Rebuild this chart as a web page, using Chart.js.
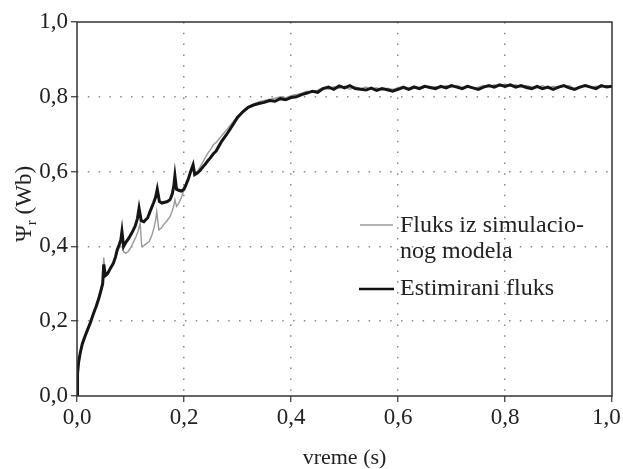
<!DOCTYPE html>
<html>
<head>
<meta charset="utf-8">
<script src="https://cdn.jsdelivr.net/npm/chart.js"></script>
<style>
  html, body { margin: 0; padding: 0; background: #fff; }
  #wrap { width: 623px; height: 469px; }
</style>
</head>
<body>
<div id="wrap"><canvas id="c" width="623" height="469"></canvas></div>
<script>
// Vremena i vrednosti očitani sa slike (početni deo sa skokovima)
const estT = [0, 0.001, 0.003, 0.006, 0.01, 0.015, 0.02, 0.025, 0.031, 0.036, 0.041, 0.045, 0.048, 0.05, 0.053,
  0.057, 0.062, 0.068, 0.072, 0.075, 0.079, 0.082, 0.084, 0.087, 0.091, 0.095, 0.099, 0.104, 0.109, 0.113,
  0.116, 0.12, 0.125, 0.129, 0.132, 0.137, 0.143, 0.147, 0.15, 0.154, 0.159, 0.164, 0.169, 0.174, 0.178,
  0.181, 0.183, 0.186, 0.19, 0.195, 0.2, 0.204, 0.208, 0.212, 0.215, 0.217, 0.22, 0.225, 0.23, 0.235,
  0.24, 0.245, 0.25, 0.255];
const estV = [0, 0.06, 0.09, 0.115, 0.14, 0.16, 0.178, 0.196, 0.221, 0.24, 0.262, 0.283, 0.3, 0.352, 0.322,
  0.327, 0.34, 0.355, 0.372, 0.39, 0.405, 0.418, 0.44, 0.40, 0.41, 0.418, 0.427, 0.44, 0.455, 0.475,
  0.502, 0.469, 0.466, 0.472, 0.476, 0.495, 0.516, 0.532, 0.553, 0.52, 0.516, 0.518, 0.52, 0.525, 0.54,
  0.562, 0.589, 0.553, 0.55, 0.548, 0.553, 0.566, 0.58, 0.598, 0.61, 0.618, 0.592, 0.596, 0.603, 0.612,
  0.62, 0.63, 0.638, 0.648];

const simT = [0, 0.001, 0.003, 0.006, 0.01, 0.015, 0.02, 0.025, 0.031, 0.036, 0.041, 0.045, 0.048, 0.05, 0.053,
  0.057, 0.062, 0.068, 0.072, 0.075, 0.079, 0.082, 0.084, 0.087, 0.091, 0.095, 0.1, 0.105, 0.11, 0.114,
  0.118, 0.121, 0.125, 0.13, 0.135, 0.14, 0.144, 0.147, 0.149, 0.153, 0.158, 0.163, 0.168, 0.174, 0.178,
  0.181, 0.183, 0.186, 0.19, 0.195, 0.2, 0.204, 0.208, 0.212, 0.215, 0.217, 0.22, 0.225, 0.23, 0.235,
  0.24, 0.245, 0.25, 0.255];
const simV = [0, 0.06, 0.092, 0.118, 0.142, 0.162, 0.18, 0.2, 0.224, 0.245, 0.268, 0.29, 0.31, 0.37, 0.33,
  0.33, 0.34, 0.352, 0.368, 0.385, 0.4, 0.41, 0.43, 0.386, 0.382, 0.385, 0.395, 0.41, 0.425, 0.44,
  0.462, 0.40, 0.402, 0.408, 0.413, 0.43, 0.45, 0.47, 0.493, 0.444, 0.45, 0.46, 0.468, 0.48, 0.495,
  0.51, 0.525, 0.507, 0.515, 0.53, 0.551, 0.565, 0.58, 0.597, 0.605, 0.612, 0.59, 0.6, 0.612, 0.625,
  0.638, 0.65, 0.66, 0.672];

// Drugi deo: zajednička vremena 0,26 .. 1,00 s
const lateT = [0.26, 0.27, 0.28, 0.29, 0.30, 0.31, 0.32, 0.33, 0.34, 0.35,
  0.36, 0.37, 0.38, 0.39, 0.40, 0.41, 0.42, 0.43, 0.44, 0.45,
  0.46, 0.47, 0.48, 0.49, 0.50, 0.51, 0.52, 0.53, 0.54, 0.55,
  0.56, 0.57, 0.58, 0.59, 0.60, 0.61, 0.62, 0.63, 0.64, 0.65,
  0.66, 0.67, 0.68, 0.69, 0.70, 0.71, 0.72, 0.73, 0.74, 0.75,
  0.76, 0.77, 0.78, 0.79, 0.80, 0.81, 0.82, 0.83, 0.84, 0.85,
  0.86, 0.87, 0.88, 0.89, 0.90, 0.91, 0.92, 0.93, 0.94, 0.95,
  0.96, 0.97, 0.98, 0.99, 1.00];
const estLate = [0.655, 0.68, 0.70, 0.722, 0.745, 0.76, 0.772, 0.778, 0.782, 0.785,
  0.79, 0.788, 0.795, 0.792, 0.798, 0.80, 0.806, 0.81, 0.815, 0.812,
  0.822, 0.826, 0.82, 0.829, 0.824, 0.83, 0.822, 0.82, 0.818, 0.823,
  0.817, 0.822, 0.819, 0.815, 0.82, 0.825, 0.82, 0.826, 0.822, 0.828,
  0.825, 0.822, 0.828, 0.824, 0.83, 0.826, 0.822, 0.828, 0.824, 0.82,
  0.826, 0.83, 0.826, 0.832, 0.828, 0.832, 0.826, 0.83, 0.825, 0.822,
  0.828, 0.822, 0.826, 0.82, 0.826, 0.83, 0.824, 0.82, 0.826, 0.83,
  0.826, 0.822, 0.83, 0.826, 0.828];
const simLate = [0.678, 0.695, 0.712, 0.73, 0.748, 0.762, 0.774, 0.78, 0.786, 0.79,
  0.793, 0.796, 0.8, 0.797, 0.803, 0.806, 0.81, 0.815, 0.812, 0.818,
  0.825, 0.82, 0.827, 0.823, 0.828, 0.82, 0.826, 0.822, 0.826, 0.82,
  0.824, 0.818, 0.823, 0.82, 0.824, 0.828, 0.823, 0.829, 0.825, 0.83,
  0.822, 0.827, 0.824, 0.83, 0.826, 0.83, 0.825, 0.83, 0.822, 0.826,
  0.83, 0.826, 0.832, 0.828, 0.834, 0.828, 0.832, 0.826, 0.83, 0.826,
  0.824, 0.83, 0.822, 0.828, 0.824, 0.828, 0.83, 0.822, 0.828, 0.832,
  0.824, 0.828, 0.826, 0.83, 0.826];

const legendLabels = ['Fluks iz simulacio-', 'nog modela', 'Estimirani fluks'];

const FONT = '"Liberation Serif", "Times New Roman", serif';
const fmt = v => v.toFixed(1).replace('.', ',');

function toPoints(t, v) { return t.map((x, i) => ({ x, y: v[i] })); }
const estData = toPoints(estT, estV).concat(toPoints(lateT, estLate));
const simData = toPoints(simT, simV).concat(toPoints(lateT, simLate));

// okvir, legenda u polju i naslov y ose sa indeksom
const extras = {
  id: 'extras',
  afterDatasetsDraw(chart) {
    const { ctx, chartArea: a } = chart;
    ctx.save();
    ctx.strokeStyle = '#333';
    ctx.lineWidth = 1.5;
    ctx.strokeRect(a.left, a.top, a.right - a.left, a.bottom - a.top);

    // legenda
    ctx.font = '24px ' + FONT;
    ctx.fillStyle = '#222';
    ctx.textBaseline = 'middle';
    ctx.textAlign = 'left';
    ctx.strokeStyle = '#999';
    ctx.lineWidth = 1.3;
    ctx.beginPath(); ctx.moveTo(360, 225); ctx.lineTo(393, 225); ctx.stroke();
    ctx.fillText(legendLabels[0], 400, 226);
    ctx.fillText(legendLabels[1], 400, 252);
    ctx.strokeStyle = '#111';
    ctx.lineWidth = 2.5;
    ctx.beginPath(); ctx.moveTo(359, 289); ctx.lineTo(394, 289); ctx.stroke();
    ctx.fillText(legendLabels[2], 400, 289);

    // naslov y ose
    ctx.translate(25, 204);
    ctx.rotate(-Math.PI / 2);
    ctx.font = '23px ' + FONT;
    const w1 = ctx.measureText('\u03A8').width;
    ctx.font = '15px ' + FONT;
    const w2 = ctx.measureText('r').width;
    ctx.font = '23px ' + FONT;
    const w3 = ctx.measureText(' (Wb)').width;
    let x = -(w1 + w2 + w3) / 2;
    ctx.fillText('\u03A8', x, 0); x += w1;
    ctx.font = '15px ' + FONT;
    ctx.fillText('r', x, 7); x += w2;
    ctx.font = '23px ' + FONT;
    ctx.fillText(' (Wb)', x, 0);
    ctx.restore();
  }
};

const gridColor = c => (c.tick && (c.tick.value === 0 || c.tick.value === 1)) ? 'rgba(0,0,0,0)' : '#888';

new Chart(document.getElementById('c'), {
  type: 'line',
  data: {
    datasets: [
      { label: 'Estimirani fluks', data: estData, borderColor: '#151515', borderWidth: 3,
        pointRadius: 0, tension: 0, fill: false },
      { label: 'Fluks iz simulacionog modela', data: simData, borderColor: '#999', borderWidth: 1.4,
        pointRadius: 0, tension: 0, fill: false }
    ]
  },
  options: {
    responsive: false,
    animation: false,
    layout: { padding: { left: 0, right: 11, top: 22, bottom: 0 } },
    plugins: { legend: { display: false }, tooltip: { enabled: false } },
    scales: {
      x: {
        type: 'linear', min: 0, max: 1,
        ticks: { stepSize: 0.2, color: '#222', font: { family: FONT, size: 23 }, padding: 2, maxRotation: 0,
          callback: v => fmt(v) + (v === 1 ? '  ' : '') },
        grid: { color: gridColor, lineWidth: 1.5, tickLength: 6, tickColor: '#333', tickWidth: 1.2 },
        border: { display: false, dash: [1.5, 9.3] },
        title: { display: true, text: 'vreme (s)', color: '#222', font: { family: FONT, size: 22, lineHeight: 1 },
          padding: { top: 0, bottom: 0 } },
        afterFit: s => { s.height = 73; s.paddingLeft = 0; s.paddingRight = 0; }
      },
      y: {
        type: 'linear', min: 0, max: 1,
        ticks: { stepSize: 0.2, color: '#222', font: { family: FONT, size: 23 }, padding: 3, callback: v => fmt(v) },
        grid: { color: gridColor, lineWidth: 1.5, tickLength: 6, tickColor: '#333', tickWidth: 1.2 },
        border: { display: false, dash: [1.5, 9.3] },
        afterFit: s => { s.width = 77; s.paddingTop = 0; s.paddingBottom = 0; }
      }
    }
  },
  plugins: [extras]
});
</script>
</body>
</html>
